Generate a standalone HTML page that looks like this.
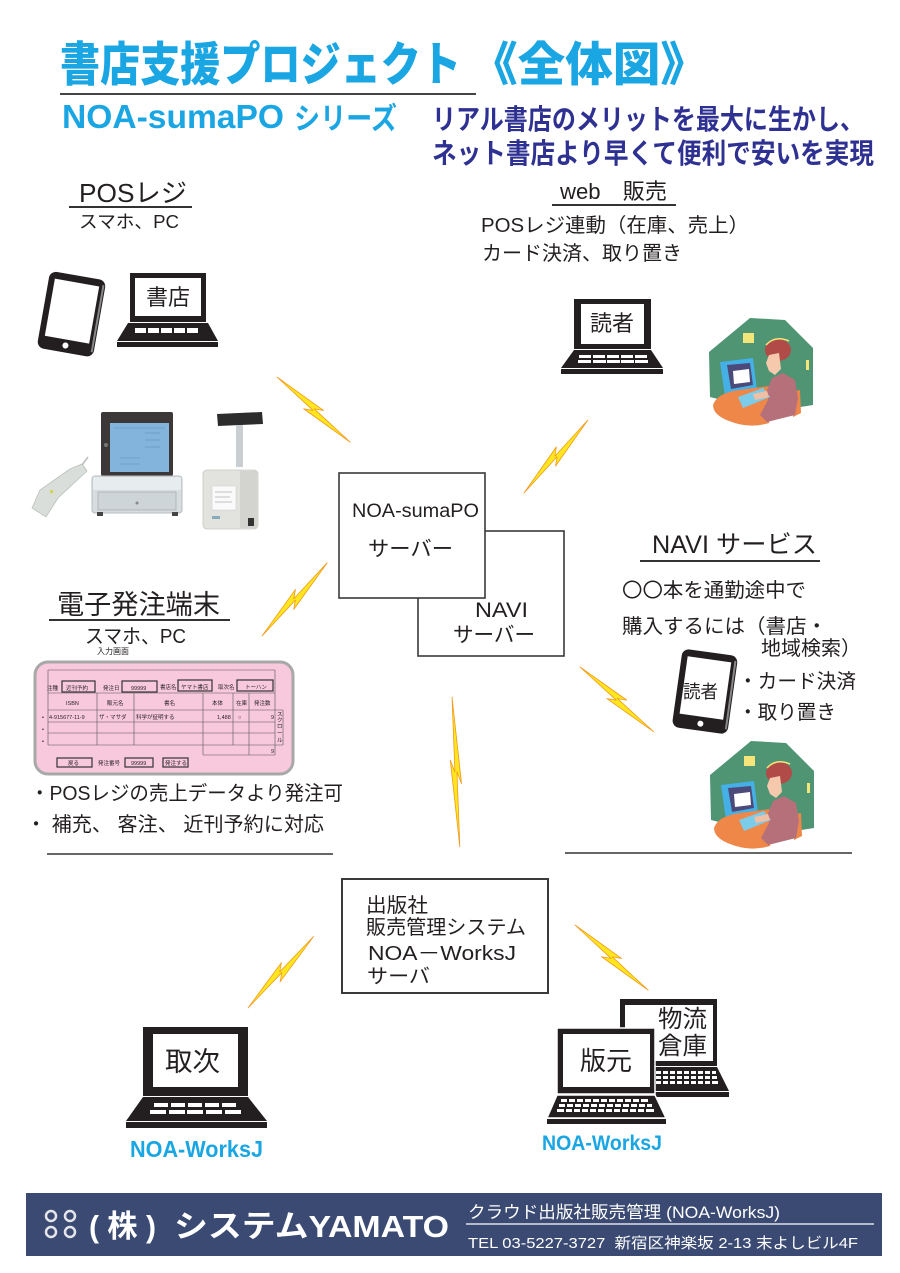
<!DOCTYPE html>
<html>
<head>
<meta charset="utf-8">
<style>
html,body{margin:0;padding:0;background:#fff;}
svg{display:block;}
text{font-family:"Liberation Sans","Noto Sans CJK JP",sans-serif;fill:#231f20;}
</style>
</head>
<body>
<svg width="900" height="1273" viewBox="0 0 900 1273" xmlns="http://www.w3.org/2000/svg">

<!-- ===== Title ===== -->
<text x="60" y="81" font-size="47" font-weight="900" style="fill:#1aa5e3" textLength="401" lengthAdjust="spacingAndGlyphs">書店支援プロジェクト</text>
<text x="470" y="81" font-size="47" font-weight="900" style="fill:#1aa5e3" textLength="238" lengthAdjust="spacingAndGlyphs">《全体図》</text>
<line x1="60" y1="94" x2="476" y2="94" stroke="#444" stroke-width="2"/>
<text x="62" y="128" font-size="33" font-weight="bold" style="fill:#1aa5e3" textLength="222" lengthAdjust="spacingAndGlyphs">NOA-sumaPO</text>
<text x="294" y="129" font-size="30" font-weight="bold" style="fill:#1aa5e3" textLength="103" lengthAdjust="spacingAndGlyphs">シリーズ</text>

<text x="432" y="129" font-size="28" font-weight="bold" style="fill:#2e3192" textLength="432" lengthAdjust="spacingAndGlyphs">リアル書店のメリットを最大に生かし、</text>
<text x="432" y="163" font-size="28" font-weight="bold" style="fill:#2e3192" textLength="442" lengthAdjust="spacingAndGlyphs">ネット書店より早くて便利で安いを実現</text>

<!-- ===== POS label ===== -->
<text x="79" y="202" font-size="26" textLength="108" lengthAdjust="spacingAndGlyphs">POSレジ</text>
<line x1="69" y1="207" x2="192" y2="207" stroke="#333" stroke-width="2"/>
<text x="79" y="228" font-size="18" textLength="100" lengthAdjust="spacingAndGlyphs">スマホ、PC</text>

<!-- ===== web label ===== -->
<text x="560" y="199" font-size="22" textLength="107" lengthAdjust="spacingAndGlyphs">web　販売</text>
<line x1="552" y1="205" x2="676" y2="205" stroke="#333" stroke-width="2"/>
<text x="481" y="232" font-size="20" textLength="268" lengthAdjust="spacingAndGlyphs">POSレジ連動（在庫、売上）</text>
<text x="482" y="260" font-size="20" textLength="200" lengthAdjust="spacingAndGlyphs">カード決済、取り置き</text>

<!-- ===== Left tablet ===== -->
<g transform="rotate(10 71 314)">
  <rect x="43" y="275" width="57" height="78" rx="7" fill="#231f20"/>
  <rect x="97" y="280" width="2" height="68" fill="#888"/>
  <rect x="49" y="282" width="45" height="58" fill="#fff"/>
  <circle cx="71" cy="346" r="3" fill="#fff"/>
</g>

<!-- ===== Laptop 書店 ===== -->
<rect x="130" y="273" width="76" height="49" fill="#231f20"/>
<rect x="135" y="278" width="66" height="38" fill="#fff"/>
<text x="146" y="305" font-size="22" textLength="44" lengthAdjust="spacingAndGlyphs">書店</text>
<polygon points="128,323 208,323 218,341 117,341" fill="#231f20"/>
<g fill="#fff">
  <rect x="135" y="328" width="11" height="5"/><rect x="148" y="328" width="11" height="5"/><rect x="161" y="328" width="11" height="5"/><rect x="174" y="328" width="11" height="5"/><rect x="187" y="328" width="11" height="5"/>
</g>
<rect x="117" y="342" width="101" height="5" fill="#231f20"/>

<!-- ===== Laptop 読者 ===== -->
<rect x="574" y="299" width="77" height="50" fill="#231f20"/>
<rect x="581" y="304" width="63" height="40" fill="#fff"/>
<text x="590" y="331" font-size="22" textLength="44" lengthAdjust="spacingAndGlyphs">読者</text>
<polygon points="574,350 651,350 663,368 561,368" fill="#231f20"/>
<g fill="#fff">
  <rect x="579" y="355" width="12" height="3"/><rect x="593" y="355" width="12" height="3"/><rect x="607" y="355" width="12" height="3"/><rect x="621" y="355" width="12" height="3"/><rect x="635" y="355" width="12" height="3"/>
  <rect x="578" y="360" width="13" height="3"/><rect x="593" y="360" width="13" height="3"/><rect x="607" y="360" width="13" height="3"/><rect x="621" y="360" width="13" height="3"/><rect x="635" y="360" width="13" height="3"/>
</g>
<rect x="561" y="369" width="102" height="5" fill="#231f20"/>

<!-- ===== Woman clipart 1 ===== -->
<g transform="translate(709,317)">
  <polygon points="0,35 41,1 76,3 104,31 104,88 60,95 1,80" fill="#4f9473"/>
  <rect x="34" y="16" width="11" height="10" fill="#f3e57a"/>
  <rect x="97" y="43" width="3" height="10" fill="#f3e57a"/>
  <polygon points="11,45 44,41 48,73 16,80" fill="#45b0e5"/>
  <polygon points="18,48 41,46 44,68 22,72" fill="#4c4a7a"/>
  <polygon points="24,54 40,52 41,65 25,67" fill="#fff"/>
  <path d="M4 88 Q8 76 30 73 L68 68 L60 106 Q40 112 20 104 Q4 98 4 88 Z" fill="#ef8749"/>
  <polygon points="83,75 91,73 92,96 84,100" fill="#ef8749"/>
  <polygon points="63,61 74,56 86,63 89,81 86,98 58,105 51,98 59,83 58,73" fill="#b5707a"/>
  <polygon points="29,80 54,71 61,80 34,91" fill="#7ccbe9"/>
  <polygon points="44,77 58,74 60,80 46,83" fill="#f0c0a6"/>
  <ellipse cx="69" cy="33" rx="13" ry="11" fill="#b04b48"/>
  <path d="M57 28 Q66 18 80 24" stroke="#f3e57a" stroke-width="1.5" fill="none"/>
  <polygon points="60,38 70,36 72,52 66,58 60,54 57,46" fill="#f6c9ad"/>
</g>

<!-- ===== POS equipment ===== -->
<rect x="101" y="412" width="72" height="64" rx="2" fill="#3d3838"/>
<rect x="110" y="423" width="59" height="49" fill="#82b4dc"/>
<g stroke="#5f8fb8" stroke-width="0.6">
  <line x1="113" y1="428" x2="165" y2="428"/><line x1="145" y1="433" x2="160" y2="433"/><line x1="145" y1="440" x2="160" y2="440"/><line x1="145" y1="447" x2="160" y2="447"/><line x1="120" y1="458" x2="140" y2="458"/><line x1="120" y1="464" x2="140" y2="464"/>
</g>
<circle cx="106" cy="445" r="2" fill="#777"/>
<rect x="92" y="476" width="90" height="37" rx="3" fill="#d7dddf" stroke="#b5bcc0" stroke-width="1"/>
<rect x="93" y="477" width="88" height="13" fill="#e7ecee"/>
<rect x="98" y="492" width="78" height="18" fill="#ced5d8" stroke="#a9b1b5" stroke-width="0.8"/>
<circle cx="137" cy="503" r="1.5" fill="#888"/>
<rect x="97" y="512" width="6" height="4" fill="#444"/><rect x="172" y="512" width="6" height="4" fill="#444"/>
<polygon points="32,508 40,490 70,469 82,464 87,471 58,498 46,517" fill="#d9dedb" stroke="#b9bfbb" stroke-width="0.8"/>
<line x1="82" y1="465" x2="88" y2="457" stroke="#bbb" stroke-width="1.5"/>
<rect x="50" y="490" width="3" height="3" fill="#c8d84a"/>
<polygon points="217,414 262,412 263,424 218,426" fill="#2c2c2c"/>
<rect x="236" y="425" width="7" height="42" fill="#c9ced2"/>
<rect x="203" y="470" width="55" height="59" rx="4" fill="#e2e3df" stroke="#c6c7c3" stroke-width="0.8"/>
<rect x="240" y="471" width="17" height="57" fill="#d3d4d0"/>
<rect x="212" y="486" width="24" height="24" fill="#fafafa" stroke="#ccc" stroke-width="0.5"/>
<g stroke="#888" stroke-width="0.5"><line x1="215" y1="492" x2="232" y2="492"/><line x1="215" y1="497" x2="230" y2="497"/><line x1="215" y1="502" x2="232" y2="502"/></g>
<rect x="248" y="518" width="6" height="8" fill="#333"/>
<rect x="212" y="516" width="8" height="3" fill="#8ab"/>

<!-- ===== Servers ===== -->
<rect x="418" y="531" width="146" height="125" fill="#fff" stroke="#3a3a3a" stroke-width="1.6"/>
<rect x="339" y="473" width="146" height="125" fill="#fff" stroke="#3a3a3a" stroke-width="1.6"/>
<text x="352" y="517" font-size="19" textLength="127" lengthAdjust="spacingAndGlyphs">NOA-sumaPO</text>
<text x="368" y="556" font-size="21" textLength="85" lengthAdjust="spacingAndGlyphs">サーバー</text>
<text x="475" y="617" font-size="21" textLength="53" lengthAdjust="spacingAndGlyphs">NAVI</text>
<text x="453" y="642" font-size="21" textLength="82" lengthAdjust="spacingAndGlyphs">サーバー</text>

<!-- ===== NAVI service ===== -->
<text x="652" y="553" font-size="25" textLength="165" lengthAdjust="spacingAndGlyphs">NAVI サービス</text>
<line x1="640" y1="561" x2="820" y2="561" stroke="#333" stroke-width="2"/>
<text x="622" y="597" font-size="20" textLength="184" lengthAdjust="spacingAndGlyphs">〇〇本を通勤途中で</text>
<text x="622" y="633" font-size="20" textLength="205" lengthAdjust="spacingAndGlyphs">購入するには（書店・</text>
<text x="761" y="655" font-size="20" textLength="100" lengthAdjust="spacingAndGlyphs">地域検索）</text>
<text x="738" y="688" font-size="20" textLength="118" lengthAdjust="spacingAndGlyphs">・カード決済</text>
<text x="738" y="719" font-size="20" textLength="98" lengthAdjust="spacingAndGlyphs">・取り置き</text>

<!-- Right tablet -->
<g transform="rotate(8 705 691)">
  <rect x="677" y="652" width="56" height="79" rx="7" fill="#231f20"/>
  <rect x="730" y="657" width="2" height="69" fill="#888"/>
  <rect x="683" y="659" width="44" height="58" fill="#fff"/>
  <circle cx="705" cy="724" r="3" fill="#fff"/>
</g>
<text x="683" y="698" font-size="18" textLength="35" lengthAdjust="spacingAndGlyphs">読者</text>

<!-- ===== Woman clipart 2 ===== -->
<g transform="translate(710,740)">
  <polygon points="0,35 41,1 76,3 104,31 104,88 60,95 1,80" fill="#4f9473"/>
  <rect x="34" y="16" width="11" height="10" fill="#f3e57a"/>
  <rect x="97" y="43" width="3" height="10" fill="#f3e57a"/>
  <polygon points="11,45 44,41 48,73 16,80" fill="#45b0e5"/>
  <polygon points="18,48 41,46 44,68 22,72" fill="#4c4a7a"/>
  <polygon points="24,54 40,52 41,65 25,67" fill="#fff"/>
  <path d="M4 88 Q8 76 30 73 L68 68 L60 106 Q40 112 20 104 Q4 98 4 88 Z" fill="#ef8749"/>
  <polygon points="83,75 91,73 92,96 84,100" fill="#ef8749"/>
  <polygon points="63,61 74,56 86,63 89,81 86,98 58,105 51,98 59,83 58,73" fill="#b5707a"/>
  <polygon points="29,80 54,71 61,80 34,91" fill="#7ccbe9"/>
  <polygon points="44,77 58,74 60,80 46,83" fill="#f0c0a6"/>
  <ellipse cx="69" cy="33" rx="13" ry="11" fill="#b04b48"/>
  <path d="M57 28 Q66 18 80 24" stroke="#f3e57a" stroke-width="1.5" fill="none"/>
  <polygon points="60,38 70,36 72,52 66,58 60,54 57,46" fill="#f6c9ad"/>
</g>

<!-- ===== Electronic ordering ===== -->
<text x="57" y="614" font-size="27" textLength="163" lengthAdjust="spacingAndGlyphs">電子発注端末</text>
<line x1="49" y1="620" x2="230" y2="620" stroke="#333" stroke-width="2"/>
<text x="85" y="643" font-size="20" textLength="101" lengthAdjust="spacingAndGlyphs">スマホ、PC</text>
<text x="97" y="654" font-size="8" textLength="32" lengthAdjust="spacingAndGlyphs">入力画面</text>

<rect x="35" y="662" width="258" height="112" rx="13" fill="#f8c8dc" stroke="#a8a8a8" stroke-width="3"/>
<g stroke="#555" stroke-width="0.6" fill="none">
  <line x1="48" y1="670" x2="275" y2="670"/>
  <line x1="48" y1="670" x2="48" y2="745"/>
  <line x1="275" y1="670" x2="275" y2="755"/>
  <line x1="48" y1="693" x2="275" y2="693"/>
  <line x1="48" y1="710" x2="283" y2="710"/>
  <line x1="48" y1="722" x2="275" y2="722"/>
  <line x1="48" y1="733" x2="275" y2="733"/>
  <line x1="48" y1="745" x2="283" y2="745"/>
  <line x1="203" y1="755" x2="275" y2="755"/>
  <line x1="97" y1="693" x2="97" y2="745"/>
  <line x1="134" y1="693" x2="134" y2="745"/>
  <line x1="203" y1="693" x2="203" y2="755"/>
  <line x1="233" y1="693" x2="233" y2="745"/>
  <line x1="249" y1="693" x2="249" y2="755"/>
  <line x1="283" y1="710" x2="283" y2="745"/>
</g>
<g stroke="#333" stroke-width="1.2" fill="none">
  <rect x="62" y="681" width="33" height="11"/>
  <rect x="122" y="681" width="35" height="11"/>
  <rect x="178" y="680" width="34" height="11"/>
  <rect x="237" y="680" width="36" height="11"/>
  <rect x="57" y="758" width="35" height="9"/>
  <rect x="125" y="758" width="28" height="9"/>
  <rect x="163" y="758" width="25" height="9"/>
</g>
<g font-size="5.5">
  <text x="47" y="690">注種</text>
  <text x="66" y="690">近刊予約</text>
  <text x="103" y="690">発注日</text>
  <text x="131" y="690">99999</text>
  <text x="160" y="689">書店名</text>
  <text x="181" y="689">ヤマト書店</text>
  <text x="218" y="689">取次名</text>
  <text x="245" y="689">トーハン</text>
  <text x="66" y="705">ISBN</text>
  <text x="107" y="705">販元名</text>
  <text x="164" y="705">書名</text>
  <text x="212" y="705">本体</text>
  <text x="236" y="705">在庫</text>
  <text x="254" y="705">発注数</text>
  <text x="49" y="719">4-915677-11-9</text>
  <text x="99" y="719">ザ・マサダ</text>
  <text x="136" y="719">科学が証明する</text>
  <text x="217" y="719">1,488</text>
  <text x="238" y="719">○</text>
  <text x="271" y="719">9</text>
  <text x="271" y="753">9</text>
  <text x="42" y="719">•</text>
  <text x="42" y="731">•</text>
  <text x="42" y="743">•</text>
  <text x="277" y="716">ス</text>
  <text x="277" y="722">ク</text>
  <text x="277" y="728">ロ</text>
  <text x="277" y="735">ー</text>
  <text x="277" y="742">ル</text>
  <text x="68" y="765">戻る</text>
  <text x="98" y="765">発注番号</text>
  <text x="131" y="765">99999</text>
  <text x="165" y="765">発注する</text>
</g>

<text x="30" y="800" font-size="20" textLength="313" lengthAdjust="spacingAndGlyphs">・POSレジの売上データより発注可</text>
<text x="26" y="831" font-size="20" textLength="298" lengthAdjust="spacingAndGlyphs">・ 補充、 客注、 近刊予約に対応</text>

<line x1="47" y1="854" x2="333" y2="854" stroke="#333" stroke-width="1.5"/>
<line x1="565" y1="853" x2="852" y2="853" stroke="#333" stroke-width="1.5"/>

<!-- ===== Publisher server ===== -->
<rect x="342" y="879" width="206" height="114" fill="#fff" stroke="#3a3a3a" stroke-width="2"/>
<text x="366" y="912" font-size="20" textLength="62" lengthAdjust="spacingAndGlyphs">出版社</text>
<text x="366" y="934" font-size="20" textLength="160" lengthAdjust="spacingAndGlyphs">販売管理システム</text>
<text x="368" y="960" font-size="20" textLength="148" lengthAdjust="spacingAndGlyphs">NOA－WorksJ</text>
<text x="367" y="983" font-size="20" textLength="63" lengthAdjust="spacingAndGlyphs">サーバ</text>

<!-- ===== Laptop 取次 ===== -->
<rect x="143" y="1027" width="105" height="69" fill="#231f20"/>
<rect x="153" y="1034" width="85" height="53" fill="#fff"/>
<text x="165" y="1071" font-size="27" textLength="55" lengthAdjust="spacingAndGlyphs">取次</text>
<polygon points="143,1097 248,1097 267,1121 126,1121" fill="#231f20"/>
<g fill="#fff">
  <rect x="154" y="1103" width="14" height="4"/><rect x="171" y="1103" width="14" height="4"/><rect x="188" y="1103" width="14" height="4"/><rect x="205" y="1103" width="14" height="4"/><rect x="222" y="1103" width="14" height="4"/>
  <rect x="150" y="1110" width="16" height="4"/><rect x="169" y="1110" width="16" height="4"/><rect x="187" y="1110" width="16" height="4"/><rect x="206" y="1110" width="16" height="4"/><rect x="225" y="1110" width="16" height="4"/>
</g>
<rect x="126" y="1122" width="141" height="6" fill="#231f20"/>
<text x="130" y="1157" font-size="23" font-weight="bold" style="fill:#1aa5e3" textLength="133" lengthAdjust="spacingAndGlyphs">NOA-WorksJ</text>

<!-- ===== Back laptop 物流倉庫 ===== -->
<rect x="620" y="999" width="97" height="67" fill="#231f20"/>
<rect x="625" y="1005" width="88" height="56" fill="#fff"/>
<text x="658" y="1027" font-size="24" textLength="49" lengthAdjust="spacingAndGlyphs">物流</text>
<text x="658" y="1054" font-size="24" textLength="49" lengthAdjust="spacingAndGlyphs">倉庫</text>
<polygon points="617,1067 717,1067 729,1091 606,1091" fill="#231f20"/>
<g fill="#fff">
  <rect x="656" y="1071" width="5" height="3"/><rect x="663" y="1071" width="5" height="3"/><rect x="670" y="1071" width="5" height="3"/><rect x="677" y="1071" width="5" height="3"/><rect x="684" y="1071" width="5" height="3"/><rect x="691" y="1071" width="5" height="3"/><rect x="698" y="1071" width="5" height="3"/><rect x="705" y="1071" width="5" height="3"/><rect x="712" y="1071" width="4" height="3"/>
  <rect x="656" y="1076" width="5" height="3"/><rect x="663" y="1076" width="5" height="3"/><rect x="670" y="1076" width="5" height="3"/><rect x="677" y="1076" width="5" height="3"/><rect x="684" y="1076" width="5" height="3"/><rect x="691" y="1076" width="5" height="3"/><rect x="698" y="1076" width="5" height="3"/><rect x="705" y="1076" width="5" height="3"/><rect x="712" y="1076" width="5" height="3"/>
  <rect x="656" y="1081" width="5" height="3"/><rect x="663" y="1081" width="5" height="3"/><rect x="670" y="1081" width="5" height="3"/><rect x="677" y="1081" width="5" height="3"/><rect x="684" y="1081" width="5" height="3"/><rect x="691" y="1081" width="5" height="3"/><rect x="698" y="1081" width="5" height="3"/><rect x="705" y="1081" width="5" height="3"/><rect x="712" y="1081" width="6" height="3"/>
</g>
<rect x="606" y="1092" width="123" height="5" fill="#231f20"/>

<!-- ===== Front laptop 版元 ===== -->
<rect x="557" y="1028" width="98" height="66" fill="#231f20" stroke="#fff" stroke-width="1.5"/>
<rect x="563" y="1034" width="87" height="53" fill="#fff"/>
<text x="580" y="1070" font-size="26" textLength="52" lengthAdjust="spacingAndGlyphs">版元</text>
<polygon points="557,1095 655,1095 666,1118 547,1118" fill="#231f20" stroke="#fff" stroke-width="1.5"/>
<g fill="#fff">
  <rect x="561" y="1099" width="6" height="3"/><rect x="569" y="1099" width="6" height="3"/><rect x="577" y="1099" width="6" height="3"/><rect x="585" y="1099" width="6" height="3"/><rect x="593" y="1099" width="6" height="3"/><rect x="601" y="1099" width="6" height="3"/><rect x="609" y="1099" width="6" height="3"/><rect x="617" y="1099" width="6" height="3"/><rect x="625" y="1099" width="6" height="3"/><rect x="633" y="1099" width="6" height="3"/><rect x="641" y="1099" width="7" height="3"/>
  <rect x="559" y="1104" width="6" height="3"/><rect x="567" y="1104" width="6" height="3"/><rect x="575" y="1104" width="6" height="3"/><rect x="583" y="1104" width="6" height="3"/><rect x="591" y="1104" width="6" height="3"/><rect x="599" y="1104" width="6" height="3"/><rect x="607" y="1104" width="6" height="3"/><rect x="615" y="1104" width="6" height="3"/><rect x="623" y="1104" width="6" height="3"/><rect x="631" y="1104" width="6" height="3"/><rect x="639" y="1104" width="6" height="3"/><rect x="647" y="1104" width="5" height="3"/>
  <rect x="557" y="1109" width="7" height="3"/><rect x="566" y="1109" width="6" height="3"/><rect x="574" y="1109" width="6" height="3"/><rect x="582" y="1109" width="6" height="3"/><rect x="590" y="1109" width="6" height="3"/><rect x="598" y="1109" width="6" height="3"/><rect x="606" y="1109" width="6" height="3"/><rect x="614" y="1109" width="6" height="3"/><rect x="622" y="1109" width="6" height="3"/><rect x="630" y="1109" width="6" height="3"/><rect x="638" y="1109" width="6" height="3"/><rect x="646" y="1109" width="8" height="3"/>
</g>
<rect x="547" y="1119" width="119" height="5" fill="#231f20"/>
<text x="542" y="1150" font-size="21" font-weight="bold" style="fill:#1aa5e3" textLength="120" lengthAdjust="spacingAndGlyphs">NOA-WorksJ</text>

<!-- ===== Lightning bolts ===== -->
<g fill="#ffe61e" stroke="#f29a1a" stroke-width="0.8" stroke-linejoin="round">
  <g transform="translate(277,377) rotate(41.7)"><polygon points="0,0 57,-6 49,-1 98,0 41,6 49,1"/></g>
  <g transform="translate(524,493) rotate(-48.8)"><polygon points="0,0 56,-6 48,-1 97,0 41,6 49,1"/></g>
  <g transform="translate(262,636) rotate(-48.3)"><polygon points="0,0 57,-6 49,-1 98,0 41,6 49,1"/></g>
  <g transform="translate(580,667) rotate(41.3)"><polygon points="0,0 57,-6 49,-1 98,0 41,6 49,1"/></g>
  <g transform="translate(452,697) rotate(87)"><polygon points="0,0 87,-5 75,-1 150,0 63,5 75,1"/></g>
  <g transform="translate(248,1008) rotate(-47.5)"><polygon points="0,0 56,-6 48,-1 97,0 41,6 49,1"/></g>
  <g transform="translate(575,925) rotate(41.7)"><polygon points="0,0 57,-6 49,-1 98,0 41,6 49,1"/></g>
</g>

<!-- ===== Footer ===== -->
<rect x="26" y="1193" width="856" height="63" fill="#3a4a73"/>
<g fill="none" stroke="#e6e6ea" stroke-width="2.5">
  <circle cx="51" cy="1216" r="5"/><circle cx="51" cy="1232" r="5"/>
  <circle cx="70" cy="1216" r="5"/><circle cx="70" cy="1232" r="5"/>
</g>
<text x="89" y="1237" font-size="31" font-weight="bold" style="fill:#fff" textLength="67" lengthAdjust="spacingAndGlyphs">( 株 )</text>
<text x="174" y="1237" font-size="31" font-weight="bold" style="fill:#fff" textLength="275" lengthAdjust="spacingAndGlyphs">システムYAMATO</text>
<text x="468" y="1218" font-size="17" style="fill:#fff" textLength="312" lengthAdjust="spacingAndGlyphs">クラウド出版社販売管理 (NOA-WorksJ)</text>
<line x1="466" y1="1224" x2="874" y2="1224" stroke="#fff" stroke-width="1.2"/>
<text x="468" y="1248" font-size="15" style="fill:#fff" textLength="390" lengthAdjust="spacingAndGlyphs">TEL 03-5227-3727 &#160;新宿区神楽坂 2-13 末よしビル4F</text>

</svg>
</body>
</html>
